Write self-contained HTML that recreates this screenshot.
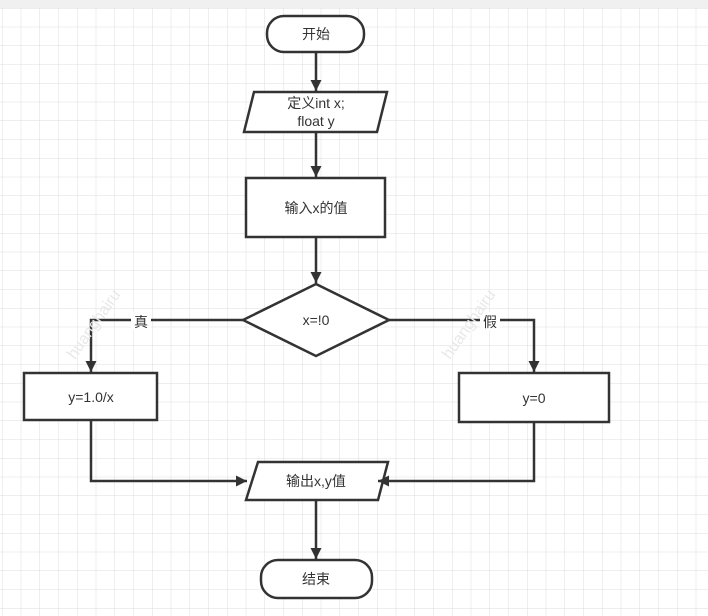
<!DOCTYPE html>
<html><head><meta charset="utf-8"><style>
html,body{margin:0;padding:0;background:#fff}
svg{display:block}
text{font-family:"Liberation Sans","Noto Sans CJK SC",sans-serif;font-size:14px;fill:#333}
</style></head><body>
<svg width="708" height="616" viewBox="0 0 708 616" xmlns="http://www.w3.org/2000/svg">
<defs>
<pattern id="g" x="2" y="8" width="18.75" height="18.75" patternUnits="userSpaceOnUse">
<path d="M0 0V18.75M0 0H18.75" stroke="#dedede" stroke-width="1" fill="none"/>
</pattern>
<marker id="a" viewBox="0 0 10 10" refX="10" refY="5" markerWidth="11" markerHeight="12" markerUnits="userSpaceOnUse" orient="auto">
<path d="M0 0L10 5L0 10z" fill="#333"/>
</marker>
</defs>
<rect x="0" y="0" width="708" height="616" fill="#fff"/>
<rect x="0" y="8" width="708" height="608" fill="url(#g)"/>
<rect x="0" y="0" width="708" height="8" fill="#f0f0f0"/>
<g fill="none" stroke="#333" stroke-width="2.5">
<rect x="267" y="16" width="97" height="36" rx="17" fill="#fff"/>
<path d="M254 92H387L377 132H244Z" fill="#fff"/>
<rect x="246" y="178" width="139" height="59" fill="#fff"/>
<path d="M316 284L389 320L316 356L243 320Z" fill="#fff"/>
<rect x="24" y="373" width="133" height="47" fill="#fff"/>
<rect x="459" y="373" width="150" height="49" fill="#fff"/>
<path d="M258 462H388L378 500H246Z" fill="#fff"/>
<rect x="261" y="560" width="111" height="38" rx="17" fill="#fff"/>
<path d="M316 52V91" marker-end="url(#a)"/>
<path d="M316 132V177" marker-end="url(#a)"/>
<path d="M316 237V283" marker-end="url(#a)"/>
<path d="M243 320H91V372" marker-end="url(#a)"/>
<path d="M389 320H534V372" marker-end="url(#a)"/>
<path d="M91 420V481H247" marker-end="url(#a)"/>
<path d="M534 422V481H378" marker-end="url(#a)"/>
<path d="M316 500V559" marker-end="url(#a)"/>
</g>
<rect x="131" y="312" width="20" height="18" fill="#fff"/>
<rect x="480" y="312" width="20" height="18" fill="#fff"/>
<g text-anchor="middle">
<text x="316" y="39">开始</text>
<text x="316" y="108">定义int x;</text>
<text x="316" y="126">float y</text>
<text x="316" y="213">输入x的值</text>
<text x="316" y="325">x=!0</text>
<text x="141" y="327">真</text>
<text x="490" y="327">假</text>
<text x="91" y="402">y=1.0/x</text>
<text x="534" y="403">y=0</text>
<text x="316" y="486">输出x,y值</text>
<text x="316" y="584">结束</text>
</g>
<text x="0" y="0" transform="translate(75,360) rotate(-55)" style="fill:#e8e8e8;font-size:16px">huanghairu</text>
<text x="0" y="0" transform="translate(450,360) rotate(-55)" style="fill:#e8e8e8;font-size:16px">huanghairu</text>
</svg>
</body></html>
